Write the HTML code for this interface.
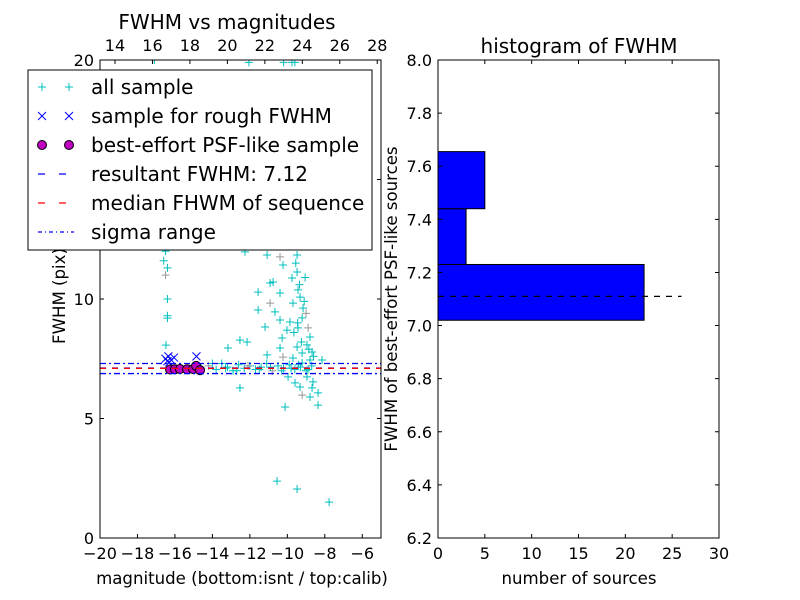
<!DOCTYPE html>
<html><head><meta charset="utf-8"><style>
body{margin:0;background:#fff;}
svg{display:block;font-family:"DejaVu Sans","Liberation Sans",sans-serif;}
</style></head><body>
<svg id="c" width="800" height="600"></svg>
<script>
// all sample (mag, fwhm) — columns kept aligned in groups of 10
const allMag=[
-17.1,-16.6,-16.5,-16.6,-16.4,-16.5,-16.4,-16.4,-16.4,-16.48,
-12.05,-10.2,-9.75,-9.6,-12.26,-11.08,-10.39,-9.48,-10.23,-9.48,
-10.76,-10.92,-9.75,-9.43,-11.56,-10.39,-9.32,-10.92,-11.56,-10.66,
-9.70,-9.16,-10.39,-11.19,-9.86,-9.21,-10.02,-9.43,-8.89,-12.53,
-12.15,-10.28,-8.79,-10.39,-9.48,-8.95,-9.21,-8.68,-11.08,-10.23,
-9.70,-8.15,-9.21,-8.79,-9.96,-8.95,-9.59,-8.63,-9.32,-8.68,
-9.21,-8.79,-8.36,-12.53,-10.12,-8.36,-10.55,-9.48,-7.77,-13.17,
-14.6,-14.2,-13.8,-13.5,-13.2,-12.9,-12.6,-12.3,-12.0,-11.7,
-11.4,-11.1,-10.8,-10.5,-10.2,-9.9,-9.6,-9.3,-9.0,-8.7,
-14.0,-13.3,-12.7,-12.1,-11.5,-10.9,-10.3,-9.8,-9.4,-8.9,
-9.55,-9.35,-9.1,-9.65,-9.0,-9.25,-8.85,-9.45,-9.05,-8.6];
const allFwhm=[
20.0,12.3,12.0,11.6,11.3,11.0,10.0,9.3,9.2,8.07,
19.9,19.9,19.9,19.9,11.97,11.84,11.76,11.84,11.42,11.13,
10.71,10.67,10.88,10.38,10.29,10.25,10.08,9.83,9.54,9.46,
9.83,9.62,9.12,8.83,9.04,9.21,8.70,8.79,8.79,8.28,
8.20,8.37,8.41,7.95,7.99,8.08,7.74,7.78,7.66,7.57,
7.53,7.45,7.32,7.45,6.74,6.74,6.49,6.53,6.32,6.28,
5.98,5.90,6.07,6.28,5.48,5.56,2.38,2.05,1.5,7.95,
7.1,7.2,7.05,7.3,7.15,7.0,7.25,7.1,7.2,7.05,
7.15,7.3,7.0,7.2,7.1,7.25,7.05,7.15,7.0,7.2,
7.3,7.1,7.0,7.2,7.05,7.15,7.0,7.1,7.25,7.05,
11.5,10.6,9.9,8.6,9.4,8.2,7.9,9.0,10.9,7.6];
const roughMag=[-16.5,-16.35,-16.2,-16.4,-16.05,-16.3,-14.85];
const roughFwhm=[7.5,7.6,7.45,7.4,7.55,7.35,7.6];
const bestMag=[-16.26,-16.0,-15.73,-15.35,-15.03,-14.87,-14.66];
const bestFwhm=[7.05,7.06,7.07,7.06,7.07,7.2,7.02];
const resultFwhm=7.11, medianFwhm=7.1, sigLo=6.88, sigHi=7.3;
const binEdges=[7.02,7.23,7.44,7.655];
const binCounts=[22,3,5];
const xTicksL=[-20,-18,-16,-14,-12,-10,-8,-6];
const xTicksTop=[14,16,18,20,22,24,26,28];
const yTicksL=[0,5,10,15,20];
const xTicksR=[0,5,10,15,20,25,30];
const yTicksR=[6.2,6.4,6.6,6.8,7.0,7.2,7.4,7.6,7.8,8.0];

const NS="http://www.w3.org/2000/svg", svg=document.getElementById('c');
function el(t,a,p){const e=document.createElementNS(NS,t);for(const k in a)e.setAttribute(k,a[k]);(p||svg).appendChild(e);return e;}
function txt(s,a,p){const e=el('text',a,p);e.textContent=s;return e;}
const L={x0:100,x1:381,y0:60,y1:538};
const xL=v=>L.x0+(v+20)/15*(L.x1-L.x0), yL=v=>L.y1-v/20*(L.y1-L.y0);
const xTop=v=>xL(v-33.2);
const R={x0:438,x1:719,y0:60,y1:538};
const xR=v=>R.x0+v/30*(R.x1-R.x0), yR=v=>R.y1-(v-6.2)/1.8*(R.y1-R.y0);
const TF=16;

// left plot
const gL=el('g',{});
const clip=el('clipPath',{id:'cl'},el('defs',{}));el('rect',{x:L.x0,y:L.y0,width:L.x1-L.x0,height:L.y1-L.y0},clip);
const pts=el('g',{'clip-path':'url(#cl)'},gL);
const n=Math.min(allMag.length,allFwhm.length);
for(let i=0;i<n;i++){const x=xL(allMag[i]),y=yL(allFwhm[i]);
 const p=el('path',{d:`M${x-4},${y}h8M${x},${y-4}v8`,stroke:i%11==5?'#999':'#00bfbf','stroke-width':1},pts);
 }
for(let i=0;i<roughMag.length;i++){const x=xL(roughMag[i]),y=yL(roughFwhm[i]);
 const p=el('path',{d:`M${x-4},${y-4}l8,8M${x-4},${y+4}l8,-8`,stroke:'#00f','stroke-width':1},pts);
 }
for(let i=0;i<bestMag.length;i++){const c=el('circle',{cx:xL(bestMag[i]),cy:yL(bestFwhm[i]),r:4.5,fill:'#bf00bf',stroke:'#000','stroke-width':1},pts);
 }
function hl(v,col,dash,nm){const l=el('line',{x1:L.x0,x2:L.x1,y1:yL(v),y2:yL(v),stroke:col,'stroke-width':1.3,'stroke-dasharray':dash},pts);}
hl(resultFwhm,'#00f','6 6','resultant-fwhm-line');hl(medianFwhm,'#f00','6 6','median-fwhm-line');
hl(sigLo,'#00f','6 3 2 3','sigma-low-line');hl(sigHi,'#00f','6 3 2 3','sigma-high-line');
el('rect',{x:L.x0,y:L.y0,width:L.x1-L.x0,height:L.y1-L.y0,fill:'none',stroke:'#000'},gL);
xTicksL.forEach(v=>{const x=xL(v);el('path',{d:`M${x},${L.y1}v-4`,stroke:'#000'},gL);
 txt((v<0?'\u2212':'')+Math.abs(v),{x:x,y:559,'text-anchor':'middle','font-size':TF},gL);});
xTicksTop.forEach(v=>{const x=xTop(v);el('path',{d:`M${x},${L.y0}v4`,stroke:'#000'},gL);
 txt(v,{x:x,y:51,'text-anchor':'middle','font-size':TF},gL);});
yTicksL.forEach(v=>{const y=yL(v);el('path',{d:`M${L.x0},${y}h4M${L.x1},${y}h-4`,stroke:'#000'},gL);
 txt(v,{x:94,y:y+6,'text-anchor':'end','font-size':TF},gL);});
txt('FWHM vs magnitudes',{x:227,y:29,'text-anchor':'middle','font-size':20},gL);
txt('magnitude (bottom:isnt / top:calib)',{x:242,y:584,'text-anchor':'middle','font-size':16.6},gL);
txt('FWHM (pix)',{x:0,y:0,transform:'translate(65,296) rotate(-90)','text-anchor':'middle','font-size':16.6},gL);
// legend
const lg=el('g',{});
el('rect',{x:28,y:70,width:344,height:180,fill:'#fff',stroke:'#000','stroke-width':1},lg);
const labs=['all sample','sample for rough FWHM','best-effort PSF-like sample','resultant FWHM: 7.12','median FHWM of sequence','sigma range'];
labs.forEach((s,i)=>{const y=87+i*29;const g=el('g',{},lg);
 if(i==0)[42,69].forEach(x=>el('path',{d:`M${x-4},${y}h8M${x},${y-4}v8`,stroke:'#00bfbf'},g));
 if(i==1)[42,69].forEach(x=>el('path',{d:`M${x-4},${y-4}l8,8M${x-4},${y+4}l8,-8`,stroke:'#00f'},g));
 if(i==2)[42,69].forEach(x=>el('circle',{cx:x,cy:y,r:4.5,fill:'#bf00bf',stroke:'#000'},g));
 if(i==3)el('line',{x1:38,x2:74,y1:y,y2:y,stroke:'#00f','stroke-width':1.3,'stroke-dasharray':'7 14'},g);
 if(i==4)el('line',{x1:38,x2:74,y1:y,y2:y,stroke:'#f00','stroke-width':1.3,'stroke-dasharray':'7 14'},g);
 if(i==5)el('line',{x1:38,x2:74,y1:y,y2:y,stroke:'#00f','stroke-width':1.3,'stroke-dasharray':'4 3 1 3'},g);
 txt(s,{x:91,y:y+7,'font-size':20},g);});

// right plot
const gR=el('g',{});
for(let i=0;i<binCounts.length;i++){const r=el('rect',{x:xR(0),y:yR(binEdges[i+1]),width:xR(binCounts[i])-xR(0),height:yR(binEdges[i])-yR(binEdges[i+1]),fill:'#00f',stroke:'#000'},gR);
 }
const ml=el('line',{x1:xR(0),x2:xR(26),y1:yR(resultFwhm),y2:yR(resultFwhm),stroke:'#000','stroke-width':1.3,'stroke-dasharray':'6 6'},gR);

el('rect',{x:R.x0,y:R.y0,width:R.x1-R.x0,height:R.y1-R.y0,fill:'none',stroke:'#000'},gR);
xTicksR.forEach(v=>{const x=xR(v);el('path',{d:`M${x},${R.y1}v-4M${x},${R.y0}v4`,stroke:'#000'},gR);
 txt(v,{x:x,y:559,'text-anchor':'middle','font-size':TF},gR);});
yTicksR.forEach(v=>{const y=yR(v);el('path',{d:`M${R.x0},${y}h4M${R.x1},${y}h-4`,stroke:'#000'},gR);
 txt(v.toFixed(1),{x:432,y:y+6,'text-anchor':'end','font-size':TF},gR);});
txt('histogram of FWHM',{x:579,y:53,'text-anchor':'middle','font-size':20},gR);
txt('number of sources',{x:579,y:584,'text-anchor':'middle','font-size':16.6},gR);
txt('FWHM of best-effort PSF-like sources',{x:0,y:0,transform:'translate(397,299) rotate(-90)','text-anchor':'middle','font-size':16.6},gR);
</script>
</body></html>
